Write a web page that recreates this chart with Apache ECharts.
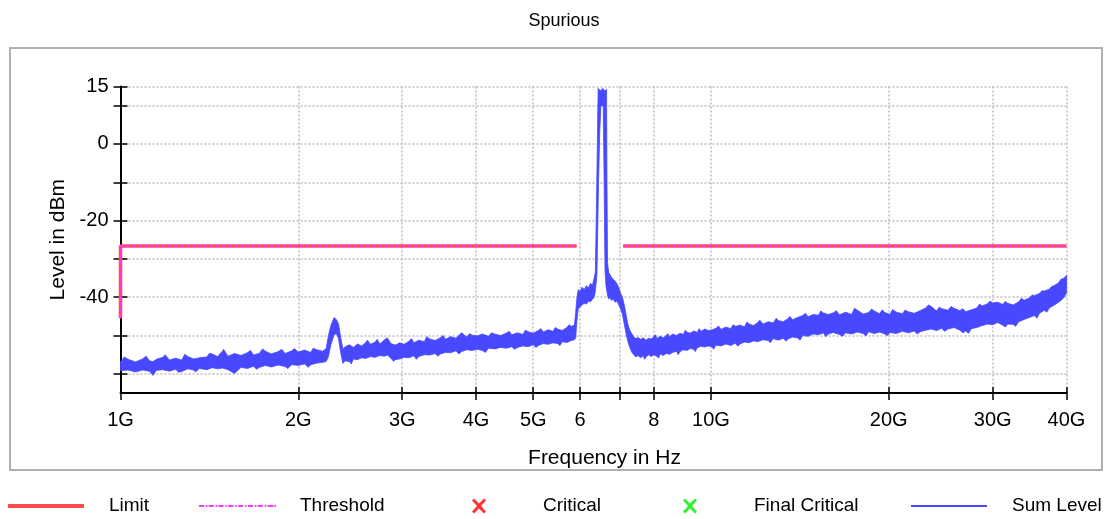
<!DOCTYPE html>
<html><head><meta charset="utf-8">
<script src="https://cdn.jsdelivr.net/npm/echarts@6/dist/echarts.min.js"></script>
<style>html,body{margin:0;padding:0;background:#fff}#c{width:1105px;height:519px}</style>
</head><body><div id="c"></div>
<script>
// ---------------- data ----------------
const chartTitle = 'Spurious';
const xTickValues = [1, 2, 3, 4, 5, 6, 7, 8, 10, 20, 30, 40];           // GHz
const xTickLabels = ['1G', '2G', '3G', '4G', '5G', '6', '', '8', '10G', '20G', '30G', '40G'];
const yTickValues = [15, 10, 0, -10, -20, -30, -40, -50, -60];
const yLabelValues = [15, 0, -20, -40];

// Limit / Threshold (GHz, dBm); '-' = gap
const limitFreq = [1, 1, 5.92, 6.5, 7.1, 40];
const limitLevel = [-45.5, -26.6, -26.6, '-', -26.6, -26.6];
const thresholdFreq = [1, 1, 5.92, 6.5, 7.1, 40];
const thresholdLevel = [-45.5, -26.6, -26.6, '-', -26.6, -26.6];
const criticalPoints = [];
const finalCriticalPoints = [];

// Sum Level trace envelope: [GHz, upper dBm, lower dBm]
const sumBand = [
 [1.00,-56.8,-59.2],[1.03,-56.2,-59.0],[1.06,-56.9,-59.5],[1.09,-56.1,-59.0],[1.12,-56.6,-59.3],
 [1.135,-56.8,-60.4],[1.15,-56.2,-59.1],[1.18,-55.7,-58.9],[1.21,-56.4,-59.3],[1.24,-55.9,-58.8],
 [1.27,-56.4,-59.4],[1.30,-55.5,-58.7],[1.33,-56.1,-59.0],[1.36,-55.8,-58.6],[1.40,-55.6,-58.9],
 [1.43,-54.8,-58.4],[1.46,-55.5,-58.7],[1.49,-54.0,-58.5],[1.52,-55.4,-58.9],[1.56,-54.7,-59.9],
 [1.60,-55.2,-58.3],[1.64,-54.5,-58.6],[1.68,-55.1,-58.0],[1.72,-54.6,-58.3],[1.76,-54.1,-57.8],
 [1.80,-54.8,-58.2],[1.85,-54.2,-57.7],[1.90,-54.7,-58.1],[1.95,-54.0,-57.6],[2.00,-54.3,-57.8],
 [2.05,-53.8,-57.4],[2.10,-54.4,-57.6],[2.15,-53.7,-57.2],[2.20,-54.1,-57.0],[2.23,-53.4,-56.8],
 [2.25,-50.0,-55.5],[2.27,-47.5,-52.5],[2.30,-45.3,-49.8],[2.32,-45.8,-49.5],[2.34,-47.0,-50.8],
 [2.36,-50.5,-54.5],[2.38,-53.5,-57.3],[2.40,-53.0,-56.6],[2.44,-52.4,-56.8],[2.48,-53.1,-56.1],
 [2.52,-52.2,-56.3],[2.56,-52.7,-55.8],[2.60,-51.9,-56.0],[2.65,-52.3,-55.5],[2.70,-51.7,-55.7],
 [2.75,-52.2,-55.2],[2.80,-51.1,-55.4],[2.83,-50.6,-55.1],[2.87,-52.1,-55.9],[2.92,-52.5,-56.3],
 [2.97,-51.9,-56.1],[3.02,-52.3,-55.7],[3.08,-51.5,-55.8],[3.14,-51.9,-55.3],[3.20,-51.2,-55.5],
 [3.27,-51.6,-55.0],[3.34,-50.9,-55.1],[3.41,-51.3,-54.7],[3.48,-50.6,-54.8],[3.55,-51.0,-54.4],
 [3.62,-50.3,-54.5],[3.70,-50.7,-54.0],[3.78,-49.3,-54.2],[3.86,-50.4,-53.7],[3.94,-49.9,-53.9],
 [4.02,-50.1,-53.6],[4.10,-49.6,-53.9],[4.20,-50.2,-53.3],[4.30,-49.6,-53.5],[4.40,-50.0,-53.1],
 [4.50,-49.4,-53.3],[4.60,-49.8,-52.9],[4.70,-49.3,-53.1],[4.80,-49.7,-52.7],[4.90,-49.0,-52.9],
 [5.00,-49.4,-52.4],[5.10,-48.7,-52.6],[5.20,-49.1,-52.1],[5.30,-48.5,-52.3],[5.40,-48.9,-51.9],
 [5.50,-48.3,-52.1],[5.60,-48.7,-51.6],[5.70,-47.9,-51.8],[5.80,-47.6,-51.3],[5.87,-47.3,-51.1],
 [5.90,-44.0,-50.6],[5.93,-40.0,-46.0],[5.96,-38.0,-43.0],[6.00,-38.5,-42.5],[6.05,-37.4,-42.0],
 [6.10,-38.0,-41.6],[6.15,-37.0,-41.8],[6.20,-37.5,-41.0],[6.25,-36.4,-41.2],[6.30,-36.8,-40.5],
 [6.34,-35.0,-40.0],
 [6.74,-34.0,-40.0],[6.78,-34.8,-40.8],[6.83,-35.3,-40.5],[6.88,-35.8,-41.3],[6.93,-36.5,-41.0],
 [6.98,-37.5,-42.0],[7.03,-39.0,-43.0],[7.08,-40.0,-44.5],[7.13,-42.0,-47.0],[7.18,-44.5,-49.5],
 [7.23,-47.0,-51.5],[7.28,-48.5,-53.0],[7.34,-49.5,-54.3],[7.40,-50.3,-55.0],[7.46,-50.8,-55.6],
 [7.52,-50.5,-55.2],[7.60,-51.0,-55.8],[7.68,-50.6,-55.3],[7.76,-51.2,-55.7],[7.84,-50.7,-55.0],
 [7.92,-50.9,-55.5],[8.00,-50.3,-55.0],[8.10,-50.8,-55.4],[8.20,-50.2,-54.8],[8.30,-50.6,-55.2],
 [8.40,-50.0,-54.7],[8.50,-50.3,-54.9],[8.62,-49.6,-54.4],[8.74,-50.0,-54.1],[8.86,-49.4,-54.2],
 [8.98,-49.7,-53.7],[9.10,-49.1,-53.9],[9.22,-49.4,-53.4],[9.35,-48.8,-53.6],[9.48,-49.2,-53.2],
 [9.62,-48.9,-52.8],[9.76,-48.3,-53.0],[9.90,-48.7,-52.7],[10.05,-48.5,-53.0],[10.2,-48.1,-52.5],
 [10.4,-48.4,-52.7],[10.6,-47.8,-52.2],[10.8,-48.2,-52.6],[11.0,-47.6,-52.0],[11.2,-47.3,-52.2],
 [11.4,-47.7,-51.7],[11.6,-47.0,-51.9],[11.8,-47.4,-51.4],[12.0,-46.6,-51.6],[12.25,-47.0,-51.1],
 [12.5,-46.4,-51.3],[12.75,-46.7,-50.8],[13.0,-46.1,-51.2],[13.25,-46.4,-50.7],[13.5,-45.6,-50.9],
 [13.75,-45.9,-50.4],[14.0,-45.3,-50.6],[14.3,-44.8,-50.0],[14.6,-45.1,-50.2],[14.9,-44.5,-49.6],
 [15.2,-44.7,-49.8],[15.5,-44.1,-49.3],[15.8,-44.5,-49.6],[16.1,-44.1,-49.2],[16.5,-44.6,-49.7],
 [16.9,-43.9,-49.3],[17.3,-44.5,-49.6],[17.7,-43.4,-49.1],[18.1,-44.4,-49.5],[18.5,-44.0,-49.0],
 [18.9,-43.6,-49.5],[19.3,-44.3,-49.1],[19.7,-44.0,-49.6],[20.1,-44.5,-49.2],[20.6,-43.9,-49.5],
 [21.1,-44.3,-48.9],[21.6,-43.8,-49.3],[22.1,-44.2,-48.8],[22.6,-43.5,-49.0],[23.1,-42.8,-48.6],
 [23.6,-42.4,-48.3],[24.1,-43.6,-48.7],[24.6,-43.0,-48.1],[25.2,-43.4,-48.3],[25.8,-42.9,-47.9],
 [26.4,-43.5,-48.6],[27.0,-43.8,-48.8],[27.6,-43.3,-48.2],[28.2,-42.8,-47.9],[28.8,-42.3,-47.4],
 [29.4,-41.7,-47.0],[30.0,-41.5,-47.2],[30.6,-41.3,-46.6],[31.2,-41.9,-47.3],[31.8,-41.6,-47.0],
 [32.5,-42.0,-47.1],[33.2,-41.2,-46.4],[33.9,-40.8,-45.8],[34.6,-40.2,-45.3],[35.3,-39.6,-44.8],
 [36.0,-39.0,-44.2],[36.7,-38.4,-43.4],[37.4,-37.9,-42.8],[38.1,-37.0,-42.1],[38.8,-36.2,-41.3],
 [39.5,-35.1,-40.3],[40.0,-34.3,-38.9]
];
// narrow noise spikes, [GHz, dBm]
const upperSpikes = [
 [1.015,-55.6],[1.105,-55.4],[1.19,-55.0],[1.285,-54.9],[1.415,-54.6],[1.495,-53.6],[1.66,-53.9],
 [1.74,-53.5],[1.875,-53.6],[1.97,-53.4],[2.12,-53.3],[2.62,-51.2],[2.72,-51.0],[3.11,-50.8],
 [3.30,-50.3],[3.52,-50.0],[3.90,-49.5],[4.25,-49.3],[4.55,-48.9],[4.85,-48.6],[5.15,-48.2],
 [5.45,-47.9],[5.75,-47.2],[8.05,-49.8],[8.45,-49.5],[9.05,-48.6],[9.55,-48.2],[10.3,-47.5],
 [10.9,-47.2],[11.5,-46.5],[12.1,-46.0],[12.9,-45.5],[13.6,-45.0],[14.45,-44.2],[15.35,-43.6],
 [16.3,-43.5],[17.5,-42.9],[18.7,-43.1],[19.5,-43.3],[20.3,-43.2],[21.3,-43.4],[23.35,-42.0],
 [24.35,-42.6],[25.5,-42.4],[26.7,-43.0],[28.5,-41.8],[29.7,-41.0],[31.5,-41.1],[33.55,-40.3],
 [35.0,-39.4],[36.35,-38.3],[37.75,-37.2],[39.15,-35.3]
];
const lowerSpikes = [
 [1.255,-59.6],[1.34,-59.5],[1.70,-58.8],[1.92,-58.6],[2.08,-58.3],[2.46,-57.4],[2.90,-56.7],
 [3.17,-56.2],[3.45,-55.4],[3.74,-54.8],[4.15,-54.4],[4.65,-53.6],[5.05,-53.1],[5.55,-52.6],
 [7.72,-56.2],[8.15,-55.9],[8.80,-55.0],[9.40,-54.2],[10.1,-53.6],[11.1,-52.8],[12.6,-51.9],
 [13.4,-51.5],[14.15,-51.2],[15.65,-50.3],[16.7,-50.2],[18.3,-50.1],[19.9,-50.0],[22.35,-49.6],
 [24.85,-48.9],[26.7,-49.3],[27.3,-49.4],[31.5,-47.8],[32.8,-47.6],[35.65,-45.5],[37.05,-43.9]
];
// carrier peak: outer (upper) and inner (lower) edges, [GHz, dBm]
const peakUpper = [[6.37,-33.5],[6.40,-15],[6.44,14.5],[6.50,13.9],[6.56,14.5],[6.61,13.8],[6.655,14.3],[6.665,-8],[6.68,-31],[6.71,-33.5]];
const peakLower = [[6.37,-38.5],[6.41,-34],[6.45,-10],[6.48,3],[6.51,10],[6.57,10],[6.59,-8],[6.615,-33],[6.64,-37],[6.68,-39.5],[6.71,-40.5]];

// ---------------- chart ----------------
const SANS = "'Liberation Sans', Arial, sans-serif";
const BLUE = '#4848ff';
const CROSS = 'path://M2,0 L7,5 L12,0 L14,2 L9,7.5 L14,13 L12,15 L7,10 L2,15 L0,13 L5,7.5 L0,2 Z';
const DASH = (function(){ let p=''; for (let x=0; x<72; x+=10){ p += 'M'+x+',0h5v2h-5z M'+(x+7)+',0h1.5v2h-1.5z '; } return 'path://' + p + 'M70,0h6v2h-6z'; })();

const upperPts = sumBand.map(d => [d[0], d[1]]).concat(upperSpikes, peakUpper).sort((a,b)=>a[0]-b[0]);
const lowerPts = sumBand.map(d => [d[0], d[2]]).concat(lowerSpikes, peakLower).sort((a,b)=>a[0]-b[0]);
const labelMap = {}; xTickValues.forEach((v,i)=>{ labelMap[v] = xTickLabels[i]; });

const chart = echarts.init(document.getElementById('c'), null, {renderer:'canvas'});
const gridLine = {show:true, lineStyle:{color:'#bdbdbd', width:1.5, type:[2,2]}};
const baseX = {type:'log', logBase:10, min:1, max:40, gridIndex:0};
const baseY = {type:'value', min:-65, max:15, gridIndex:0};
const legendText = {fontFamily:SANS, fontSize:19, lineHeight:20, color:'#000'};
const legendBase = {padding:0, selectedMode:false, top:496};

chart.setOption({
  animation:false,
  backgroundColor:'#fff',
  title:{text:chartTitle, left:559, top:7, textAlign:'center', textStyle:{fontFamily:SANS, fontSize:18, fontWeight:'normal', color:'#000'}},
  graphic:[{type:'rect', silent:true, z:-10, shape:{x:10,y:48,width:1092,height:422}, style:{fill:'none', stroke:'#b0b0b0', lineWidth:2}}],
  grid:{left:120.5, right:38.5, top:86.5, bottom:126, containLabel:false},
  xAxis:[
    Object.assign({}, baseX, {
      position:'bottom',
      name:'Frequency in Hz', nameLocation:'middle', nameGap:55,
      nameTextStyle:{fontFamily:SANS, fontSize:21, color:'#000', padding:[0,0,0,22]},
      axisLine:{show:true, onZero:false, lineStyle:{color:'#000', width:2}},
      axisTick:{show:true, inside:false, length:7, customValues:xTickValues, lineStyle:{color:'#000', width:1.5}},
      axisLabel:{show:true, margin:17, customValues:xTickValues, fontFamily:SANS, fontSize:20, color:'#000',
        formatter:v=>{ const r=Math.round(v*1000)/1000; return labelMap[r] !== undefined ? labelMap[r] : ''; }},
      splitLine:gridLine, minorTick:{show:false}
    }),
    Object.assign({}, baseX, {
      position:'bottom', axisLine:{show:false, onZero:false},
      axisTick:{show:true, inside:true, length:6, customValues:xTickValues, lineStyle:{color:'#000', width:1.5}},
      axisLabel:{show:false}, splitLine:{show:false}
    })
  ],
  yAxis:[
    Object.assign({}, baseY, {
      position:'left',
      name:'Level in dBm', nameLocation:'middle', nameGap:44, nameRotate:90,
      nameTextStyle:{fontFamily:SANS, fontSize:21, color:'#000'},
      axisLine:{show:true, onZero:false, lineStyle:{color:'#000', width:2}},
      axisTick:{show:true, inside:false, length:7, customValues:yTickValues, lineStyle:{color:'#000', width:1.5}},
      axisLabel:{show:true, margin:12, customValues:yLabelValues, fontFamily:SANS, fontSize:20, color:'#000'},
      splitLine:gridLine
    }),
    Object.assign({}, baseY, {
      position:'left', axisLine:{show:false, onZero:false},
      axisTick:{show:true, inside:true, length:7, customValues:yTickValues, lineStyle:{color:'#000', width:1.5}},
      axisLabel:{show:false}, splitLine:{show:false}
    })
  ],
  legend:[
    Object.assign({}, legendBase, {data:[{name:'Limit', icon:'rect'}], left:8, itemWidth:76, itemHeight:4,
     textStyle:Object.assign({padding:[0,0,0,20]}, legendText)}),
    Object.assign({}, legendBase, {data:[{name:'Threshold', icon:DASH}], left:199, itemWidth:77, itemHeight:2,
     textStyle:Object.assign({padding:[0,0,0,19]}, legendText)}),
    Object.assign({}, legendBase, {data:[{name:'Critical', icon:CROSS}], left:472, itemWidth:14, itemHeight:15,
     textStyle:Object.assign({padding:[0,0,0,52]}, legendText)}),
    Object.assign({}, legendBase, {data:[{name:'Final Critical', icon:CROSS}], left:683, itemWidth:14, itemHeight:15,
     textStyle:Object.assign({padding:[0,0,0,52]}, legendText)}),
    Object.assign({}, legendBase, {data:[{name:'Sum Level', icon:'rect'}], left:911, itemWidth:76, itemHeight:2,
     textStyle:Object.assign({padding:[0,0,0,20]}, legendText)})
  ],
  series:[
    {name:'Limit', type:'line', xAxisIndex:0, yAxisIndex:0, clip:false, symbol:'none', z:3,
     color:'#ff4a4a', itemStyle:{color:'#ff4a4a'},
     lineStyle:{color:'#ff4a4a', width:3.5},
     data:limitFreq.map((f,i)=>[f, limitLevel[i]])},
    {name:'Threshold', type:'line', xAxisIndex:0, yAxisIndex:0, clip:false, symbol:'none', z:4,
     color:'#ff33ff', itemStyle:{color:'#ff33ff'},
     lineStyle:{color:'#ff33ff', width:2, type:[4,2]},
     data:thresholdFreq.map((f,i)=>[f, thresholdLevel[i]])},
    {name:'Critical', type:'scatter', xAxisIndex:0, yAxisIndex:0, symbol:CROSS, symbolSize:[14,15],
     color:'#ff0000', itemStyle:{color:'#ff0000'}, data:criticalPoints},
    {name:'Final Critical', type:'scatter', xAxisIndex:0, yAxisIndex:0, symbol:CROSS, symbolSize:[14,15],
     color:'#00ee00', itemStyle:{color:'#00ee00'}, data:finalCriticalPoints},
    {name:'Sum Level', type:'custom', xAxisIndex:0, yAxisIndex:0, z:5,
     color:BLUE, itemStyle:{color:BLUE},
     encode:{x:0, y:1},
     data:upperPts,
     renderItem:function(params, api){
       if (params.dataIndex !== 0) return null;
       const pts = [];
       upperPts.forEach(p => pts.push(api.coord(p)));
       for (let i = lowerPts.length - 1; i >= 0; i--) pts.push(api.coord(lowerPts[i]));
       return {type:'polygon', shape:{points:pts}, style:{fill:BLUE, stroke:BLUE, lineWidth:0.8}};
     }}
  ]
});
</script></body></html>
